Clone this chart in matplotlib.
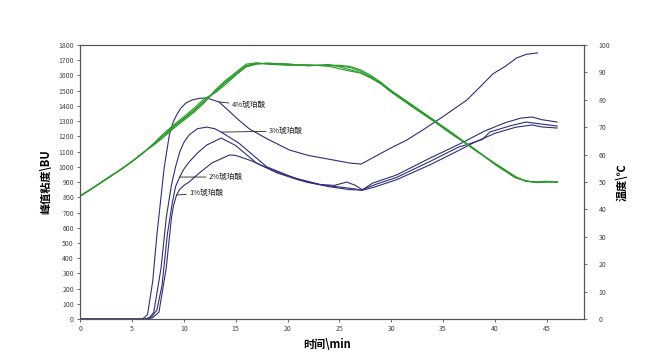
import matplotlib.pyplot as plt

plt.rcParams['font.family'] = ['Noto Sans CJK SC', 'DejaVu Sans']

# 粘度曲线 (BU)
t4 = [0, 6.0, 6.5, 7.0, 7.4, 8.1, 8.6, 8.95, 9.3, 9.7, 10.2, 10.8, 11.5, 12.2, 13.4, 15.3, 16.3,
      18.0, 20.2, 22.0, 24.0, 26.0, 27.1, 28.5, 30.0, 31.5, 33.0, 35.0, 37.3, 38.5, 39.8, 41.0,
      42.1, 43.0, 44.1]
v4 = [0, 0, 30, 250, 552, 992, 1209, 1290, 1340, 1385, 1419, 1439, 1450, 1452, 1426, 1307, 1250,
      1185, 1110, 1075, 1050, 1025, 1018, 1070, 1125, 1176, 1240, 1330, 1439, 1520, 1610, 1660,
      1715, 1738, 1748]

t3 = [0, 6.2, 6.7, 7.1, 7.8, 8.3, 8.8, 9.2, 9.6, 10.0, 10.5, 11.3, 12.2, 13.0, 13.6, 15.3, 18.0,
      20.0, 21.8, 24.0, 26.0, 27.2, 28.2, 30.5, 33.7, 36.9, 39.0, 41.0, 42.5, 43.6, 44.5, 46.0]
v3 = [0, 0, 10, 46, 335, 663, 880, 1000, 1097, 1160, 1209, 1250, 1261, 1250, 1228, 1156, 1000,
      945, 900, 870, 850, 848, 893, 946, 1056, 1160, 1235, 1290, 1320, 1327, 1310, 1294]

t2 = [0, 6.3, 6.9, 7.4, 7.9, 8.4, 8.9, 9.2, 9.6, 10.0, 10.5, 11.3, 12.2, 13.6, 15.0, 17.0, 19.0,
      21.1, 23.0, 24.5, 25.7, 26.5, 27.2, 28.5, 30.5, 33.7, 36.5, 37.5, 38.8, 39.5, 41.5, 43.0,
      44.0, 46.0]
v2 = [0, 0, 15, 60, 223, 552, 769, 870, 933, 985, 1031, 1090, 1143, 1189, 1140, 1025, 960,
      913, 885, 878, 900, 880, 850, 885, 930, 1034, 1130, 1150, 1180, 1228, 1270, 1294,
      1285, 1268]

t1 = [0, 6.4, 7.0, 7.6, 8.3, 8.8, 9.0, 9.3, 9.6, 10.0, 10.5, 11.5, 12.7, 14.4, 15.0, 16.5, 18.5,
      20.5, 23.4, 25.0, 26.5, 27.2, 28.5, 30.5, 33.7, 36.0, 38.0, 40.0, 42.0, 43.6, 44.5, 46.0]
v1 = [0, 0, 10, 46, 335, 663, 745, 815, 852, 878, 900, 960, 1025, 1078, 1075, 1040, 979,
      930, 880, 868, 855, 845, 870, 915, 1012, 1090, 1160, 1220, 1260, 1275, 1262, 1255]

# 温度曲线 (℃)
tt = [0, 1, 2, 3, 4, 5, 6, 7, 8, 9, 10, 11, 12, 13, 14, 15, 16, 17, 18, 20, 22, 24, 25, 26, 27,
      28, 29, 30, 32, 34, 36, 38, 40, 42, 43, 44, 45, 46]
temp_a = [44.9, 47.3, 49.8, 52.3, 54.8, 57.5, 60.5, 63.5, 66.8, 70.0, 73.0, 76.0, 79.5, 83.0, 86.5,
          89.5, 92.5, 93.3, 93.2, 92.8, 92.6, 92.5, 92.3, 91.8, 90.5, 88.5, 86.0, 83.0, 77.8, 72.6,
          67.3, 62.0, 56.7, 51.8, 50.3, 50.0, 50.2, 50.0]
temp_b = [44.9, 47.2, 49.9, 52.4, 54.7, 57.6, 60.3, 63.8, 67.5, 70.8, 73.8, 77.0, 80.5, 82.5, 85.5,
          89.0, 92.0, 93.0, 93.4, 93.0, 92.4, 92.9, 92.0, 91.0, 90.0, 88.0, 85.8, 82.8, 77.5, 72.4,
          67.0, 62.2, 56.4, 51.5, 50.5, 49.8, 50.1, 50.0]
temp_c = [44.9, 47.4, 49.7, 52.2, 54.9, 57.4, 60.6, 63.2, 66.2, 69.5, 72.5, 75.5, 79.0, 83.5, 87.0,
          90.0, 93.0, 93.5, 93.0, 92.6, 92.8, 92.2, 91.3, 90.5, 89.8, 88.2, 86.2, 83.2, 78.0, 72.8,
          67.5, 61.8, 56.9, 52.0, 50.2, 50.1, 50.3, 50.0]
temp_d = [44.9, 47.3, 49.8, 52.3, 54.8, 57.5, 60.4, 63.6, 67.0, 70.3, 73.3, 76.4, 79.8, 82.8, 86.2,
          89.2, 92.2, 93.1, 93.3, 93.1, 92.5, 92.6, 92.6, 92.2, 91.0, 89.0, 86.4, 83.4, 78.2, 72.9,
          67.6, 62.1, 56.6, 51.6, 50.4, 49.9, 50.0, 50.1]

navy = '#2e2e78'
green = '#2a9a2a'

fig = plt.figure(figsize=(6.57, 3.57), dpi=100)
fig.subplots_adjust(left=0.122, right=0.889, bottom=0.106, top=0.874)
ax = fig.add_subplot(111)
ax2 = ax.twinx()

for t, v in [(t4, v4), (t3, v3), (t2, v2), (t1, v1)]:
    ax.plot(t, v, color=navy, lw=0.8)
for temp in [temp_a, temp_b, temp_c, temp_d]:
    ax2.plot(tt, temp, color=green, lw=0.8)

ax.set_xlim(0, 48.6)
ax.set_ylim(0, 1800)
ax2.set_ylim(0, 100)
ax.set_xticks(range(0, 50, 5))
ax.set_yticks(range(0, 1900, 100))
ax2.set_yticks(range(0, 110, 10))

for a in (ax, ax2):
    a.tick_params(labelsize=5, length=2.5, width=0.6, colors='#555555', labelcolor='#444444', pad=2)
    for s in a.spines.values():
        s.set_color('#555555')
        s.set_linewidth(0.8)
ax2.tick_params(pad=8)

ax.set_xlabel('时间\\min', fontsize=8, fontweight='bold')
ax.set_ylabel('峰值粘度\\BU', fontsize=8, fontweight='bold')
ax2.set_ylabel('温度\\℃', fontsize=8, fontweight='bold')
ax.xaxis.set_label_coords(0.49, -0.07)
ax.yaxis.set_label_coords(-0.055, 0.5)
ax2.yaxis.set_label_coords(1.062, 0.5)

lab = dict(fontsize=5.5, va='center', ha='left', color='#222222',
           arrowprops=dict(arrowstyle='-', color='#222222', lw=0.6, shrinkA=0, shrinkB=0))
ax.annotate('4%琥珀酸', xy=(t4[14], v4[14]), xytext=(14.6, 1405), **lab)
ax.annotate('3%琥珀酸', xy=(t3[14], v3[14]), xytext=(18.2, 1235), **lab)
ax.annotate('2%琥珀酸', xy=(t2[8], v2[8]), xytext=(12.4, 933), **lab)
ax.annotate('1%琥珀酸', xy=(t1[7], v1[7]), xytext=(10.5, 828), **lab)

fig.savefig('out.png', dpi=100)
